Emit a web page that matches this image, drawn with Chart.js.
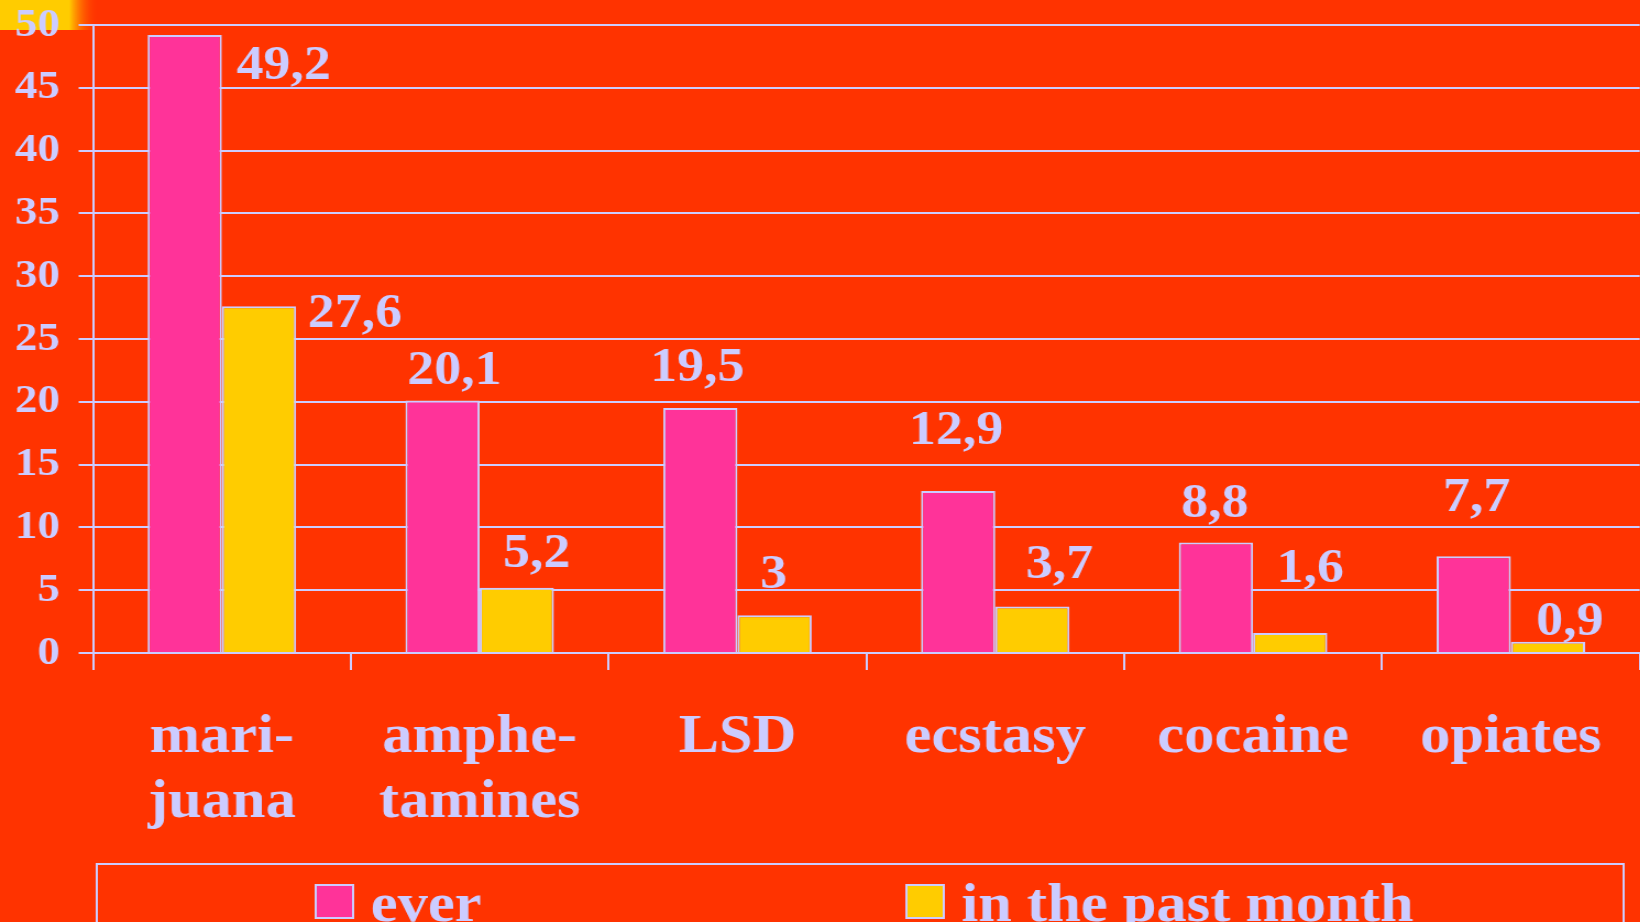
<!DOCTYPE html>
<html>
  <head>
    <title>Drug use among students</title>
    <meta charset="UTF-8" />
    <script src="https://cdn.jsdelivr.net/npm/chart.js"></script>
    <style>
      html, body { margin: 0; padding: 0; background: #ff3300; overflow: hidden; }
      /* the slide is drawn a bit narrow and stretched sideways */
      #wrap { width: 1491px; height: 922px; transform: scaleX(1.1); transform-origin: 0 0; }
    </style>
  </head>

  <body>
    <div id="wrap">
      <canvas id="myChart" width="1491" height="922"></canvas>
    </div>

    <script>
      const STRETCH = 1.1;
      const LAV = "#ccccff";
      const FONT = "'Liberation Serif', 'Times New Roman', serif";

      const drugs = [["mari-", "juana"], ["amphe-", "tamines"], "LSD", "ecstasy", "cocaine", "opiates"];
      const everUsed = [49.2, 20.1, 19.5, 12.9, 8.8, 7.7];
      const pastMonth = [27.6, 5.2, 3, 3.7, 1.6, 0.9];
      const yTicks = [0, 5, 10, 15, 20, 25, 30, 35, 40, 45, 50];

      // where each value label sits, relative to the top centre of its bar (screen px)
      const everLabelShift = [[99, 31], [12, -29], [-3, -40], [-2, -60], [-1, -38], [3, -58]];
      const monthLabelShift = [[96, 8], [20, -33], [-1, -40], [27, -41], [20, -64], [22, -19]];

      // orange slide background with the yellow corner
      const slideBackground = {
        id: "slideBackground",
        beforeDraw(chart) {
          const ctx = chart.ctx;
          ctx.save();
          ctx.fillStyle = "#ff3300";
          ctx.fillRect(0, 0, chart.width, chart.height);
          const g = ctx.createLinearGradient(0, 0, 90, 0);
          g.addColorStop(0, "#ffcc00");
          g.addColorStop(0.7, "#ffcc00");
          g.addColorStop(1, "rgba(255,51,0,0)");
          ctx.fillStyle = g;
          ctx.fillRect(0, 0, 90, 30);
          ctx.restore();
        }
      };

      // value labels, written with a decimal comma
      const valueLabels = {
        id: "valueLabels",
        afterDatasetsDraw(chart) {
          const ctx = chart.ctx;
          const shifts = [everLabelShift, monthLabelShift];
          ctx.save();
          ctx.fillStyle = LAV;
          ctx.font = "bold 49px " + FONT;
          ctx.textAlign = "center";
          ctx.textBaseline = "middle";
          chart.data.datasets.forEach((ds, d) => {
            chart.getDatasetMeta(d).data.forEach((bar, i) => {
              const s = shifts[d][i];
              const txt = String(ds.data[i]).replace(".", ",");
              ctx.fillText(txt, bar.x + s[0] / STRETCH, bar.y + s[1]);
            });
          });
          ctx.restore();
        }
      };

      // boxed legend along the bottom edge
      const boxLegend = {
        id: "boxLegend",
        afterDraw(chart) {
          const ctx = chart.ctx;
          const left = 88, right = 1476, top = 864;
          const items = [287, 824];
          ctx.save();
          ctx.strokeStyle = LAV;
          ctx.lineWidth = 2;
          ctx.strokeRect(left, top, right - left, 100);
          ctx.font = "bold 55px " + FONT;
          ctx.textBaseline = "alphabetic";
          chart.data.datasets.forEach((ds, d) => {
            const x = items[d];
            ctx.fillStyle = ds.backgroundColor;
            ctx.fillRect(x, 885, 34, 33);
            ctx.strokeRect(x, 885, 34, 33);
            ctx.fillStyle = LAV;
            ctx.fillText(ds.label, x + 50, 921);
          });
          ctx.restore();
        }
      };

      function initChart() {
        let myChart = document.getElementById("myChart").getContext("2d");

        new Chart(myChart, {
          type: "bar",
          data: {
            labels: drugs,
            datasets: [
              {
                label: "ever",
                data: everUsed,
                backgroundColor: "#ff3399",
                borderColor: LAV,
                borderWidth: 2
              },
              {
                label: "in the past month",
                data: pastMonth,
                backgroundColor: "#ffcc00",
                borderColor: LAV,
                borderWidth: 2
              }
            ]
          },
          options: {
            responsive: false,
            animation: false,
            categoryPercentage: 0.576,
            barPercentage: 1.0,
            layout: { padding: { top: 25, right: 0, bottom: 90, left: 0 } },
            plugins: {
              legend: { display: false },
              tooltip: { enabled: false }
            },
            scales: {
              x: {
                grid: {
                  drawOnChartArea: false,
                  drawTicks: true,
                  tickLength: 17,
                  color: LAV,
                  lineWidth: 2
                },
                border: { display: true, color: LAV, width: 2 },
                ticks: {
                  color: LAV,
                  padding: 35,
                  maxRotation: 0,
                  autoSkip: false,
                  font: { family: FONT, size: 55, weight: "bold", lineHeight: 1.18 }
                },
                afterFit(scale) { scale.height = 179; }
              },
              y: {
                min: 0,
                max: 50,
                afterBuildTicks(scale) { scale.ticks = yTicks.map(v => ({ value: v })); },
                grid: { color: LAV, lineWidth: 2, tickLength: 13 },
                border: { display: true, color: LAV, width: 2 },
                ticks: {
                  color: LAV,
                  padding: 17,
                  font: { family: FONT, size: 41, weight: "bold" }
                },
                afterFit(scale) {
                  scale.width = 84.5;
                  scale.paddingTop = 0;
                  scale.paddingBottom = 0;
                }
              }
            }
          },
          plugins: [slideBackground, valueLabels, boxLegend]
        });
      }

      initChart();
    </script>
  </body>
</html>
